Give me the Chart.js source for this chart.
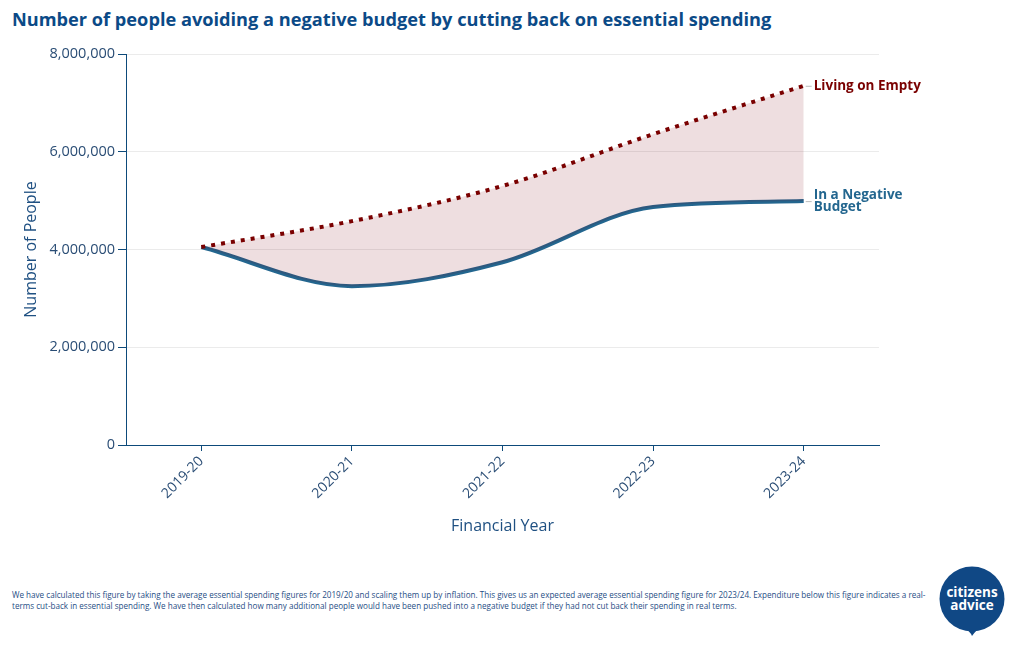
<!DOCTYPE html>
<html>
<head>
<meta charset="utf-8">
<script src="https://cdn.jsdelivr.net/npm/chart.js@4.4.1/dist/chart.umd.min.js"></script>
<style>
  html, body { margin: 0; padding: 0; background: #fff; }
  body { width: 1020px; height: 650px; position: relative; overflow: hidden; font-family: "Open Sans", sans-serif; }
  #title { position: absolute; left: 12px; top: 7px; font-size: 18.2px; font-weight: 700; color: #0b4a87; white-space: nowrap; }
  #wrap { position: absolute; left: 0; top: 0; width: 1020px; height: 560px; }
  #note { position: absolute; left: 12px; top: 589px; width: 925px; font-size: 8.1px; line-height: 11px; color: #1f4e85; }
  #logo { position: absolute; left: 936px; top: 563px; }
</style>
</head>
<body>
<div id="title">Number of people avoiding a negative budget by cutting back on essential spending</div>
<div id="wrap"><canvas id="c" width="1020" height="560"></canvas></div>
<div id="note">We have calculated this figure by taking the average essential spending figures for 2019/20 and scaling them up by inflation. This gives us an expected average essential spending figure for 2023/24. Expenditure below this figure indicates a real-terms cut-back in essential spending. We have then calculated how many additional people would have been pushed into a negative budget if they had not cut back their spending in real terms.</div>
<svg id="logo" width="80" height="80" viewBox="0 0 80 80">
  <path d="M 27 64 Q 34 68 36 73 Q 40 67 47 63 Z" fill="#104885"/>
  <circle cx="36" cy="36" r="32.5" fill="#104885"/>
  <text x="36" y="34" text-anchor="middle" font-family="Open Sans" font-weight="700" font-size="13.5" fill="#fff">citizens</text>
  <text x="36" y="47" text-anchor="middle" font-family="Open Sans" font-weight="700" font-size="13.5" fill="#fff">advice</text>
</svg>
<script>
const years = ["2019-20", "2020-21", "2021-22", "2022-23", "2023-24"];
const livingOnEmpty = [4050000, 4580000, 5300000, 6360000, 7350000];
const negativeBudget = [4050000, 3250000, 3740000, 4870000, 4990000];
const yTicks = [0, 2000000, 4000000, 6000000, 8000000];
const seriesNames = ["Living on Empty", ["In a Negative", "Budget"]];

const RED = "#7a0000";
const BLUE = "#23668f";
const AXIS = "#0d4a7a";
const TICKTXT = "#2a4d75";

const endLabels = {
  id: "endLabels",
  afterDatasetsDraw(chart) {
    const ctx = chart.ctx;
    ctx.save();
    chart.data.datasets.forEach((ds, i) => {
      const meta = chart.getDatasetMeta(i);
      const pt = meta.data[meta.data.length - 1];
      const x = pt.x, y = pt.y;
      ctx.strokeStyle = "#bbb";
      ctx.lineWidth = 1;
      ctx.beginPath();
      ctx.moveTo(x + 2, y + 0.5);
      ctx.lineTo(x + 8, y + 0.5);
      ctx.stroke();
      ctx.fillStyle = ds.borderColor;
      ctx.font = "700 13.5px 'Open Sans'";
      ctx.textBaseline = "middle";
      ctx.textAlign = "left";
      const lines = Array.isArray(seriesNames[i]) ? seriesNames[i] : [seriesNames[i]];
      const lh = 12;
      const start = y - (lines.length - 1) * lh / 2;
      lines.forEach((t, k) => ctx.fillText(t, x + 10, start + k * lh));
    });
    ctx.restore();
  }
};

new Chart(document.getElementById("c"), {
  type: "line",
  data: {
    labels: years,
    datasets: [
      {
        label: "Living on Empty",
        data: livingOnEmpty,
        borderColor: RED,
        borderWidth: 4,
        borderDash: [4, 6],
        borderCapStyle: "butt",
        pointRadius: 0,
        cubicInterpolationMode: "monotone",
        fill: 1,
        backgroundColor: "rgba(123,0,12,0.13)"
      },
      {
        label: "In a Negative Budget",
        data: negativeBudget,
        borderColor: BLUE,
        borderWidth: 4,
        pointRadius: 0,
        cubicInterpolationMode: "monotone",
        fill: false
      }
    ]
  },
  options: {
    responsive: false,
    animation: false,
    events: [],
    layout: { padding: { top: 54, right: 141, bottom: 20, left: 0 } },
    plugins: { legend: { display: false }, tooltip: { enabled: false } },
    scales: {
      x: {
        offset: true,
        grid: { display: true, drawOnChartArea: false, offset: false, tickLength: 6, tickColor: AXIS, tickWidth: 1 },
        border: { display: true, color: AXIS, width: 1 },
        ticks: { color: TICKTXT, font: { family: "Open Sans", size: 14 }, minRotation: 45, maxRotation: 45, padding: 2 },
        title: { display: true, text: "Financial Year", color: "#1f5082", font: { family: "Open Sans", size: 16 }, padding: { top: 4, bottom: 4 } },
        afterFit(scale) { scale.height = 95; }
      },
      y: {
        min: 0,
        max: 8000000,
        afterBuildTicks(scale) { scale.ticks = yTicks.map(v => ({ value: v })); },
        grid: { color: "#ebebeb", lineWidth: 1, tickLength: 8, tickColor: AXIS, drawTicks: true },
        border: { display: true, color: AXIS, width: 1 },
        ticks: {
          color: TICKTXT,
          font: { family: "Open Sans", size: 14.5 },
          padding: 3,
          callback: v => v.toLocaleString("en-US")
        },
        title: { display: true, text: "Number of People", color: "#1f5082", font: { family: "Open Sans", size: 16 }, padding: { top: 22, bottom: 0 } },
        afterFit(scale) { scale.width = 126; }
      }
    }
  },
  plugins: [endLabels]
});
</script>
</body>
</html>
